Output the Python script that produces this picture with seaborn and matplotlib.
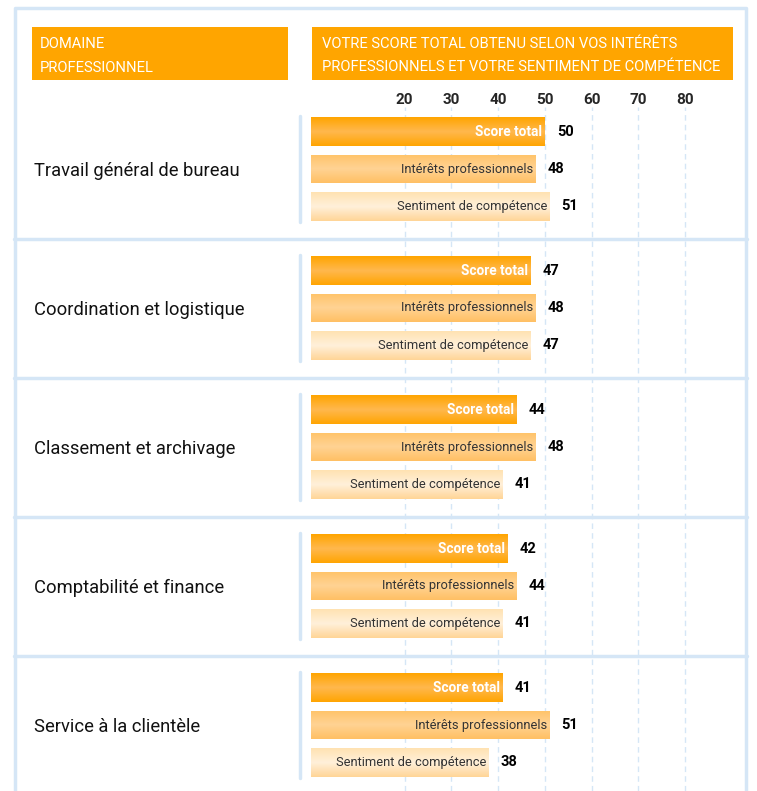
import numpy as np
import pandas as pd
import seaborn as sns
import matplotlib.pyplot as plt
import matplotlib.transforms as mtransforms
from matplotlib.colors import LinearSegmentedColormap
from matplotlib.patches import Rectangle

# Données
domaines = ["Travail général de bureau", "Coordination et logistique",
            "Classement et archivage", "Comptabilité et finance",
            "Service à la clientèle"]
series = ["Score total", "Intérêts professionnels", "Sentiment de compétence"]
score_total = [50, 47, 44, 42, 41]
interets = [48, 48, 48, 44, 51]
sentiment = [51, 47, 41, 41, 38]
ticks = [20, 30, 40, 50, 60, 70, 80]

titre_gauche = "DOMAINE\nPROFESSIONNEL"
titre_droite = ("VOTRE SCORE TOTAL OBTENU SELON VOS INTÉRÊTS\n"
                "PROFESSIONNELS ET VOTRE SENTIMENT DE COMPÉTENCE")

df = pd.DataFrame({
    "domaine": domaines * 3,
    "serie": np.repeat(series, len(domaines)),
    "valeur": score_total + interets + sentiment,
})

ORANGE = "#FFA500"
BLEU = "#D5E6F6"
gradients = {
    "Score total": ["#FFA500", "#FFB84E", "#FFA502"],
    "Intérêts professionnels": ["#FFC368", "#FFD394", "#FFC064"],
    "Sentiment de compétence": ["#FFE2B2", "#FFF0DA", "#FFD597"],
}

sns.set_style("white")
plt.rcParams["font.family"] = ["Roboto", "DejaVu Sans"]

W, H = 757, 791
fig = plt.figure(figsize=(W / 100, H / 100), dpi=100)

# axes des barres : 0 -> px 311, haut -> px 107
x0, x1, ytop = 311, 733, 107
ax = fig.add_axes([x0 / W, 0, (x1 - x0) / W, (H - ytop) / H])
sns.barplot(data=df, y="domaine", x="valeur", hue="serie", order=domaines,
            hue_order=series, palette=[ORANGE] * 3, gap=0.22, width=0.8,
            legend=False, ax=ax, zorder=2)

ppu = (685 - 311) / 80
ylim = (4 + (H - 725) / 139, -(169 - ytop) / 139)
ax.set_xlim(0, (x1 - x0) / ppu)
ax.set_xticks(ticks)
ax.set_yticks([])
ax.xaxis.tick_top()
ax.tick_params(axis="x", length=0, pad=0, labelsize=11)
for t in ax.get_xticklabels():
    t.set_fontweight("bold")
ax.set_xlabel("")
ax.set_ylabel("")
for s in ax.spines.values():
    s.set_visible(False)
ax.grid(axis="x", color=BLEU, linestyle=(0, (4, 3)), linewidth=1, zorder=0)
ax.set_axisbelow(True)

# dégradés et étiquettes
patches = sorted(ax.patches, key=lambda p: p.get_y())
for k, p in enumerate(patches):
    serie = series[k % 3]
    val = p.get_width()
    y, h = p.get_y(), p.get_height()
    cmap = LinearSegmentedColormap.from_list(serie, gradients[serie])
    img = ax.imshow(np.linspace(0, 1, 64).reshape(-1, 1), cmap=cmap,
                    aspect="auto", extent=[0, val, y + h, y], zorder=3)
    img.set_clip_path(p)
    p.set_facecolor("none")
    p.set_edgecolor("none")
    cy = y + h / 2
    if serie == "Score total":
        ax.text(val - 0.5, cy, serie, ha="right", va="center", color="white",
                fontsize=9.8, fontweight="bold", zorder=4)
    else:
        ax.text(val - 0.5, cy, serie, ha="right", va="center", color="#333333",
                fontsize=9.3, zorder=4)
    ax.text(val + 2.6, cy, f"{int(val)}", ha="left", va="center",
            color="black", fontsize=10.5, fontweight="bold", zorder=4)
ax.set_ylim(*ylim)

# éléments de mise en page (coordonnées figure en x, données en y)
blend = mtransforms.blended_transform_factory(fig.transFigure, ax.transData)
for i, nom in enumerate(domaines):
    ax.text(34 / W, i + 0.015, nom, transform=blend, ha="left", va="center",
            fontsize=13.2, color="#111111")
    ax.plot([300 / W, 300 / W], [i - 0.378, i + 0.378], transform=blend,
            color=BLEU, lw=2.5, clip_on=False)
    if i < len(domaines) - 1:
        ax.plot([14 / W, 747 / W], [i + 0.5, i + 0.5], transform=blend,
                color=BLEU, lw=2.5, clip_on=False)

# cadre et en-têtes
bg = fig.add_axes([0, 0, 1, 1], zorder=-1)
bg.set_xlim(0, W)
bg.set_ylim(H, 0)
bg.axis("off")
bg.plot([15, 15, 746, 746], [H + 5, 8, 8, H + 5], color=BLEU, lw=2.5)
bg.add_patch(Rectangle((32, 27), 256, 53, color=ORANGE, lw=0))
bg.add_patch(Rectangle((312, 27), 421, 53, color=ORANGE, lw=0))
bg.text(40, 56, titre_gauche, ha="left", va="center", color="white",
        fontsize=10.6, linespacing=1.9)
bg.text(322, 55.5, titre_droite, ha="left", va="center", color="white",
        fontsize=10.6, linespacing=1.9)

fig.savefig("out.png", dpi=100)
